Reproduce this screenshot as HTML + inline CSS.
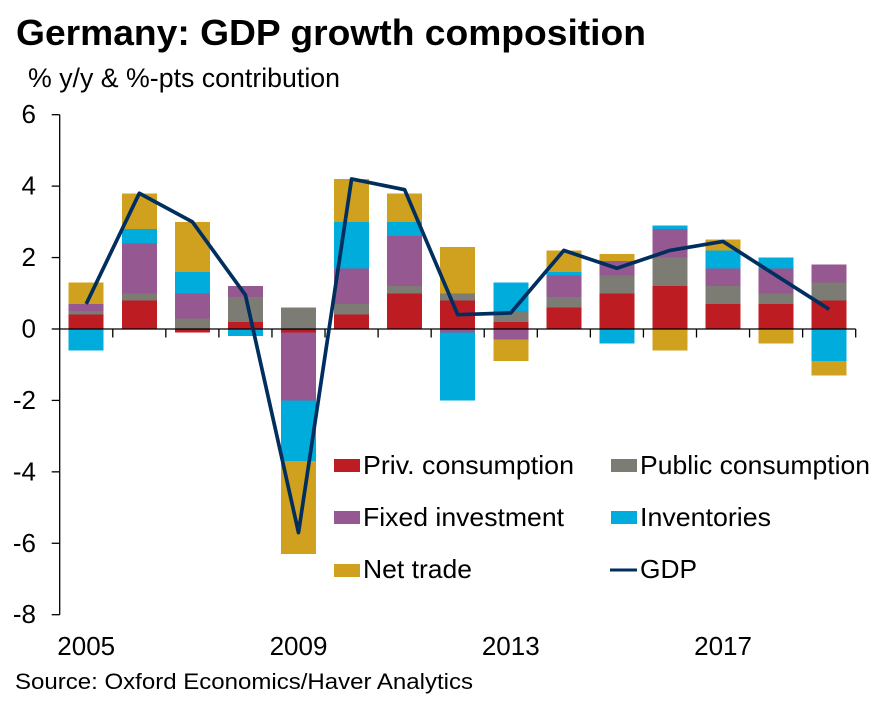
<!DOCTYPE html>
<html lang="en">
<head>
<meta charset="utf-8">
<title>Germany: GDP growth composition</title>
<style>
html,body{margin:0;padding:0;background:#fff;width:885px;height:707px;overflow:hidden}
svg{display:block;font-family:"Liberation Sans",sans-serif;fill:#000}
</style>
</head>
<body>
<svg id="chart" width="885" height="707" viewBox="0 0 885 707" xmlns="http://www.w3.org/2000/svg">
  <rect x="0" y="0" width="885" height="707" fill="#ffffff"/>
  <text x="16" y="45" font-size="36" font-weight="700" textLength="630" lengthAdjust="spacingAndGlyphs">Germany: GDP growth composition</text>
  <text x="28" y="87" font-size="26.5" textLength="312" lengthAdjust="spacingAndGlyphs">% y/y &amp; %-pts contribution</text>
  <g id="bars" shape-rendering="crispEdges"></g>
  <g id="axes"></g>
  <g id="lines"></g>
  <g font-size="26">
    <g>
      <rect x="334" y="459" width="26" height="13" fill="#BC1C22"/>
      <text x="363" y="474" textLength="211" lengthAdjust="spacingAndGlyphs">Priv. consumption</text>
    </g>
    <g>
      <rect x="611" y="459" width="26" height="13" fill="#7C7C74"/>
      <text x="640" y="474" textLength="230" lengthAdjust="spacingAndGlyphs">Public consumption</text>
    </g>
    <g>
      <rect x="334" y="511" width="26" height="13" fill="#965891"/>
      <text x="363" y="526" textLength="201" lengthAdjust="spacingAndGlyphs">Fixed investment</text>
    </g>
    <g>
      <rect x="611" y="511" width="26" height="13" fill="#00ACDC"/>
      <text x="640" y="526" textLength="131" lengthAdjust="spacingAndGlyphs">Inventories</text>
    </g>
    <g>
      <rect x="334" y="564" width="26" height="13" fill="#D0A11E"/>
      <text x="363" y="578" textLength="109" lengthAdjust="spacingAndGlyphs">Net trade</text>
    </g>
    <g>
      <line x1="610" y1="570" x2="637" y2="570" stroke="#002F5F" stroke-width="3"/>
      <text x="640" y="578" textLength="57" lengthAdjust="spacingAndGlyphs">GDP</text>
    </g>
  </g>
  <text x="15" y="689" font-size="22" textLength="458" lengthAdjust="spacingAndGlyphs">Source: Oxford Economics/Haver Analytics</text>
</svg>
<script>
const years = [2005,2006,2007,2008,2009,2010,2011,2012,2013,2014,2015,2016,2017,2018,2019];
const privConsumption = [0.4,0.8,-0.1,0.2,-0.1,0.4,1.0,0.8,0.2,0.6,1.0,1.2,0.7,0.7,0.8];
const publicConsumption = [0.1,0.2,0.3,0.7,0.6,0.3,0.2,0.2,0.3,0.3,0.5,0.8,0.5,0.3,0.5];
const fixedInvestment = [0.2,1.4,0.7,0.3,-1.9,1.0,1.4,-0.1,-0.3,0.6,0.4,0.8,0.5,0.7,0.5];
const inventories = [-0.6,0.4,0.6,-0.2,-1.7,1.3,0.4,-1.9,0.8,0.1,-0.4,0.1,0.5,0.3,-0.9];
const netTrade = [0.6,1.0,1.4,0.0,-2.6,1.2,0.8,1.3,-0.6,0.6,0.2,-0.6,0.3,-0.4,-0.4];
const gdp = [0.7,3.8,3.0,0.95,-5.7,4.2,3.9,0.4,0.45,2.2,1.7,2.2,2.45,1.5,0.55];
const yTicks = [6,4,2,0,-2,-4,-6,-8];
const xLabels = [2005,2009,2013,2017];

const NS = 'http://www.w3.org/2000/svg';
const plotLeft = 59.7, plotRight = 855.7, plotTop = 114.7, plotBottom = 614.7;
const yMax = yTicks[0], yMin = yTicks[yTicks.length - 1];
const barWidth = 35;
const step = (plotRight - plotLeft) / years.length;
function yPos(v) { return plotTop + (yMax - v) * (plotBottom - plotTop) / (yMax - yMin); }
function xEdge(i) { return plotLeft + step * i; }
function xPos(i) { return xEdge(i) + step / 2; }
function make(tag, attrs, parent) {
  const el = document.createElementNS(NS, tag);
  for (const k in attrs) el.setAttribute(k, attrs[k]);
  parent.appendChild(el);
  return el;
}

const barsG = document.getElementById('bars');
const axesG = document.getElementById('axes');
const linesG = document.getElementById('lines');

const seriesList = [
  { key: 'priv-consumption', values: privConsumption, color: '#BC1C22' },
  { key: 'public-consumption', values: publicConsumption, color: '#7C7C74' },
  { key: 'fixed-investment', values: fixedInvestment, color: '#965891' },
  { key: 'inventories', values: inventories, color: '#00ACDC' },
  { key: 'net-trade', values: netTrade, color: '#D0A11E' }
];

years.forEach(function (year, i) {
  let up = 0, down = 0;
  seriesList.forEach(function (s) {
    const v = s.values[i];
    if (!v) return;
    let from, to;
    if (v > 0) { from = up; to = up + v; up = to; }
    else { from = down; to = down + v; down = to; }
    const top = yPos(Math.max(from, to));
    const h = yPos(Math.min(from, to)) - top;
    const r = make('rect', { x: xPos(i) - barWidth / 2, y: top, width: barWidth, height: h, fill: s.color }, barsG);
    
    
  });
});

const yAxisLine = make('line', { x1: plotLeft, y1: plotTop, x2: plotLeft, y2: plotBottom, stroke: '#000', 'stroke-width': 1.3 }, axesG);



yTicks.forEach(function (t) {
  const y = yPos(t);
  const tick = make('line', { x1: plotLeft - 8, y1: y, x2: plotLeft, y2: y, stroke: '#000', 'stroke-width': 1.3 }, axesG);
  
  
  const label = make('text', { x: 36, y: y + 8.5, 'font-size': 26, 'text-anchor': 'end' }, axesG);
  label.textContent = String(t);
  
  
});

const xAxisLine = make('line', { x1: plotLeft, y1: yPos(0), x2: plotRight, y2: yPos(0), stroke: '#000', 'stroke-width': 1.3 }, axesG);



for (let i = 1; i <= years.length; i++) {
  const tick = make('line', { x1: xEdge(i), y1: yPos(0), x2: xEdge(i), y2: yPos(0) + 8.5, stroke: '#000', 'stroke-width': 1.3 }, axesG);
  
  
}

xLabels.forEach(function (yr) {
  const label = make('text', { x: xPos(years.indexOf(yr)), y: 655, 'font-size': 26, 'text-anchor': 'middle' }, axesG);
  label.textContent = String(yr);
  
  
});

const gdpPoints = gdp.map(function (v, i) { return xPos(i) + ',' + yPos(v); }).join(' ');
const gdpLine = make('polyline', { points: gdpPoints, fill: 'none', stroke: '#002F5F', 'stroke-width': 3.7, 'stroke-linejoin': 'round' }, linesG);


</script>
</body>
</html>
